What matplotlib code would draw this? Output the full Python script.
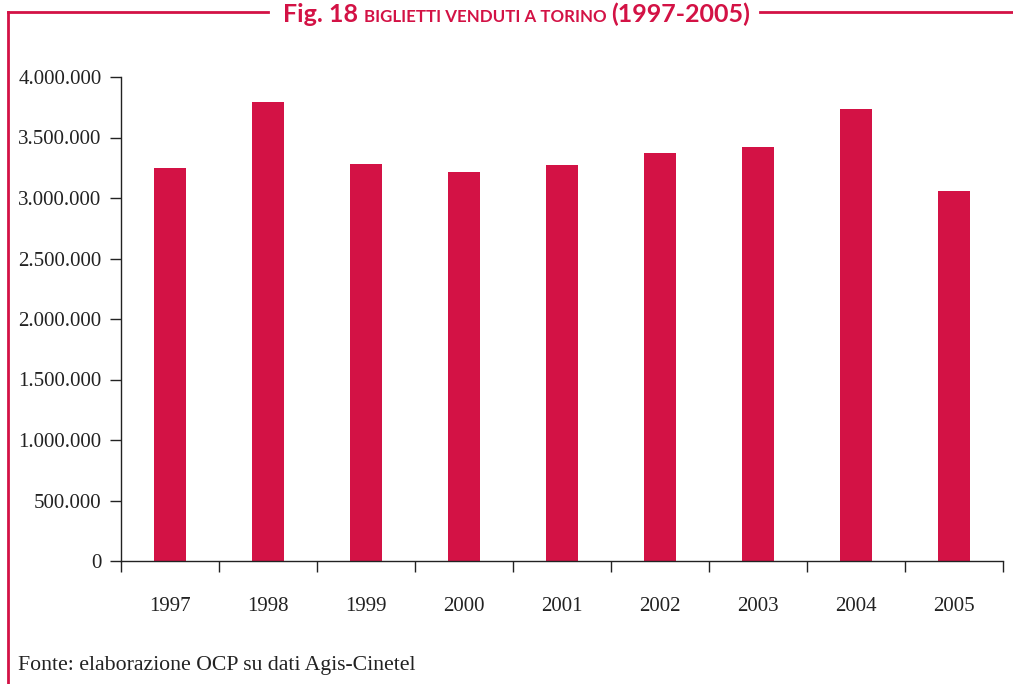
import matplotlib
matplotlib.use('Agg')
import matplotlib.pyplot as plt
from matplotlib.lines import Line2D
import numpy as np

years = ['1997', '1998', '1999', '2000', '2001', '2002', '2003', '2004', '2005']
tickets = [3248000, 3793000, 3281000, 3215000, 3273000, 3372000, 3421000, 3736000, 3058000]
yticks = [0, 500000, 1000000, 1500000, 2000000, 2500000, 3000000, 3500000, 4000000]

red = '#D31245'
serif = ['Liberation Serif', 'DejaVu Serif']
sans = ['Lato', 'DejaVu Sans']

W, H = 1013, 684
fig = plt.figure(figsize=(W / 100, H / 100), dpi=100)
ax = fig.add_axes([121 / W, 1 - 561 / H, 882 / W, 484 / H])

x = np.arange(len(years))
ax.bar(x, tickets, width=0.32, color=red)
ax.set_xlim(-0.5, len(years) - 0.5)
ax.set_ylim(0, 4000000)

ax.set_yticks(yticks)
ax.set_yticklabels([f'{v:,}'.replace(',', '.') for v in yticks], family=serif, fontsize=15, color='#222222')
ax.set_xticks(np.arange(len(years) + 1) - 0.5)
ax.set_xticklabels([])
ax.set_xticks(x, minor=True)
ax.set_xticklabels(years, minor=True, family=serif, fontsize=15, color='#222222')
ax.tick_params(axis='x', which='minor', length=0, pad=26)
ax.tick_params(axis='x', which='major', length=8, width=1, color='#222222', direction='out')
ax.tick_params(axis='y', length=8, width=1, color='#222222', pad=6)
for s in ['top', 'right']:
    ax.spines[s].set_visible(False)
for s in ['left', 'bottom']:
    ax.spines[s].set_color('#222222')
    ax.spines[s].set_linewidth(1)

# frame lines
fy = 1 - 12 / H
fig.add_artist(Line2D([8 / W, 268 / W], [fy, fy], color=red, lw=2))
fig.add_artist(Line2D([760 / W, 1], [fy, fy], color=red, lw=2))
fig.add_artist(Line2D([8 / W, 8 / W], [fy, 0], color=red, lw=2))

# title in pieces
fig.canvas.draw()
r = fig.canvas.get_renderer()
parts = [('Fig. 18 ', 18), ('BIGLIETTI VENDUTI A TORINO ', 12.2), ('(1997-2005)', 18)]
xp = 283
for s, fs in parts:
    t = fig.text(xp / W, 1 - 22 / H, s, family=sans, weight='bold', fontsize=fs,
                 color=red, ha='left', va='baseline')
    xp += t.get_window_extent(r).width

fig.text(18 / W, 1 - 670 / H, 'Fonte: elaborazione OCP su dati Agis-Cinetel',
         family=serif, fontsize=15.7, color='#222222', ha='left', va='baseline')

fig.savefig('out.png', dpi=100)
